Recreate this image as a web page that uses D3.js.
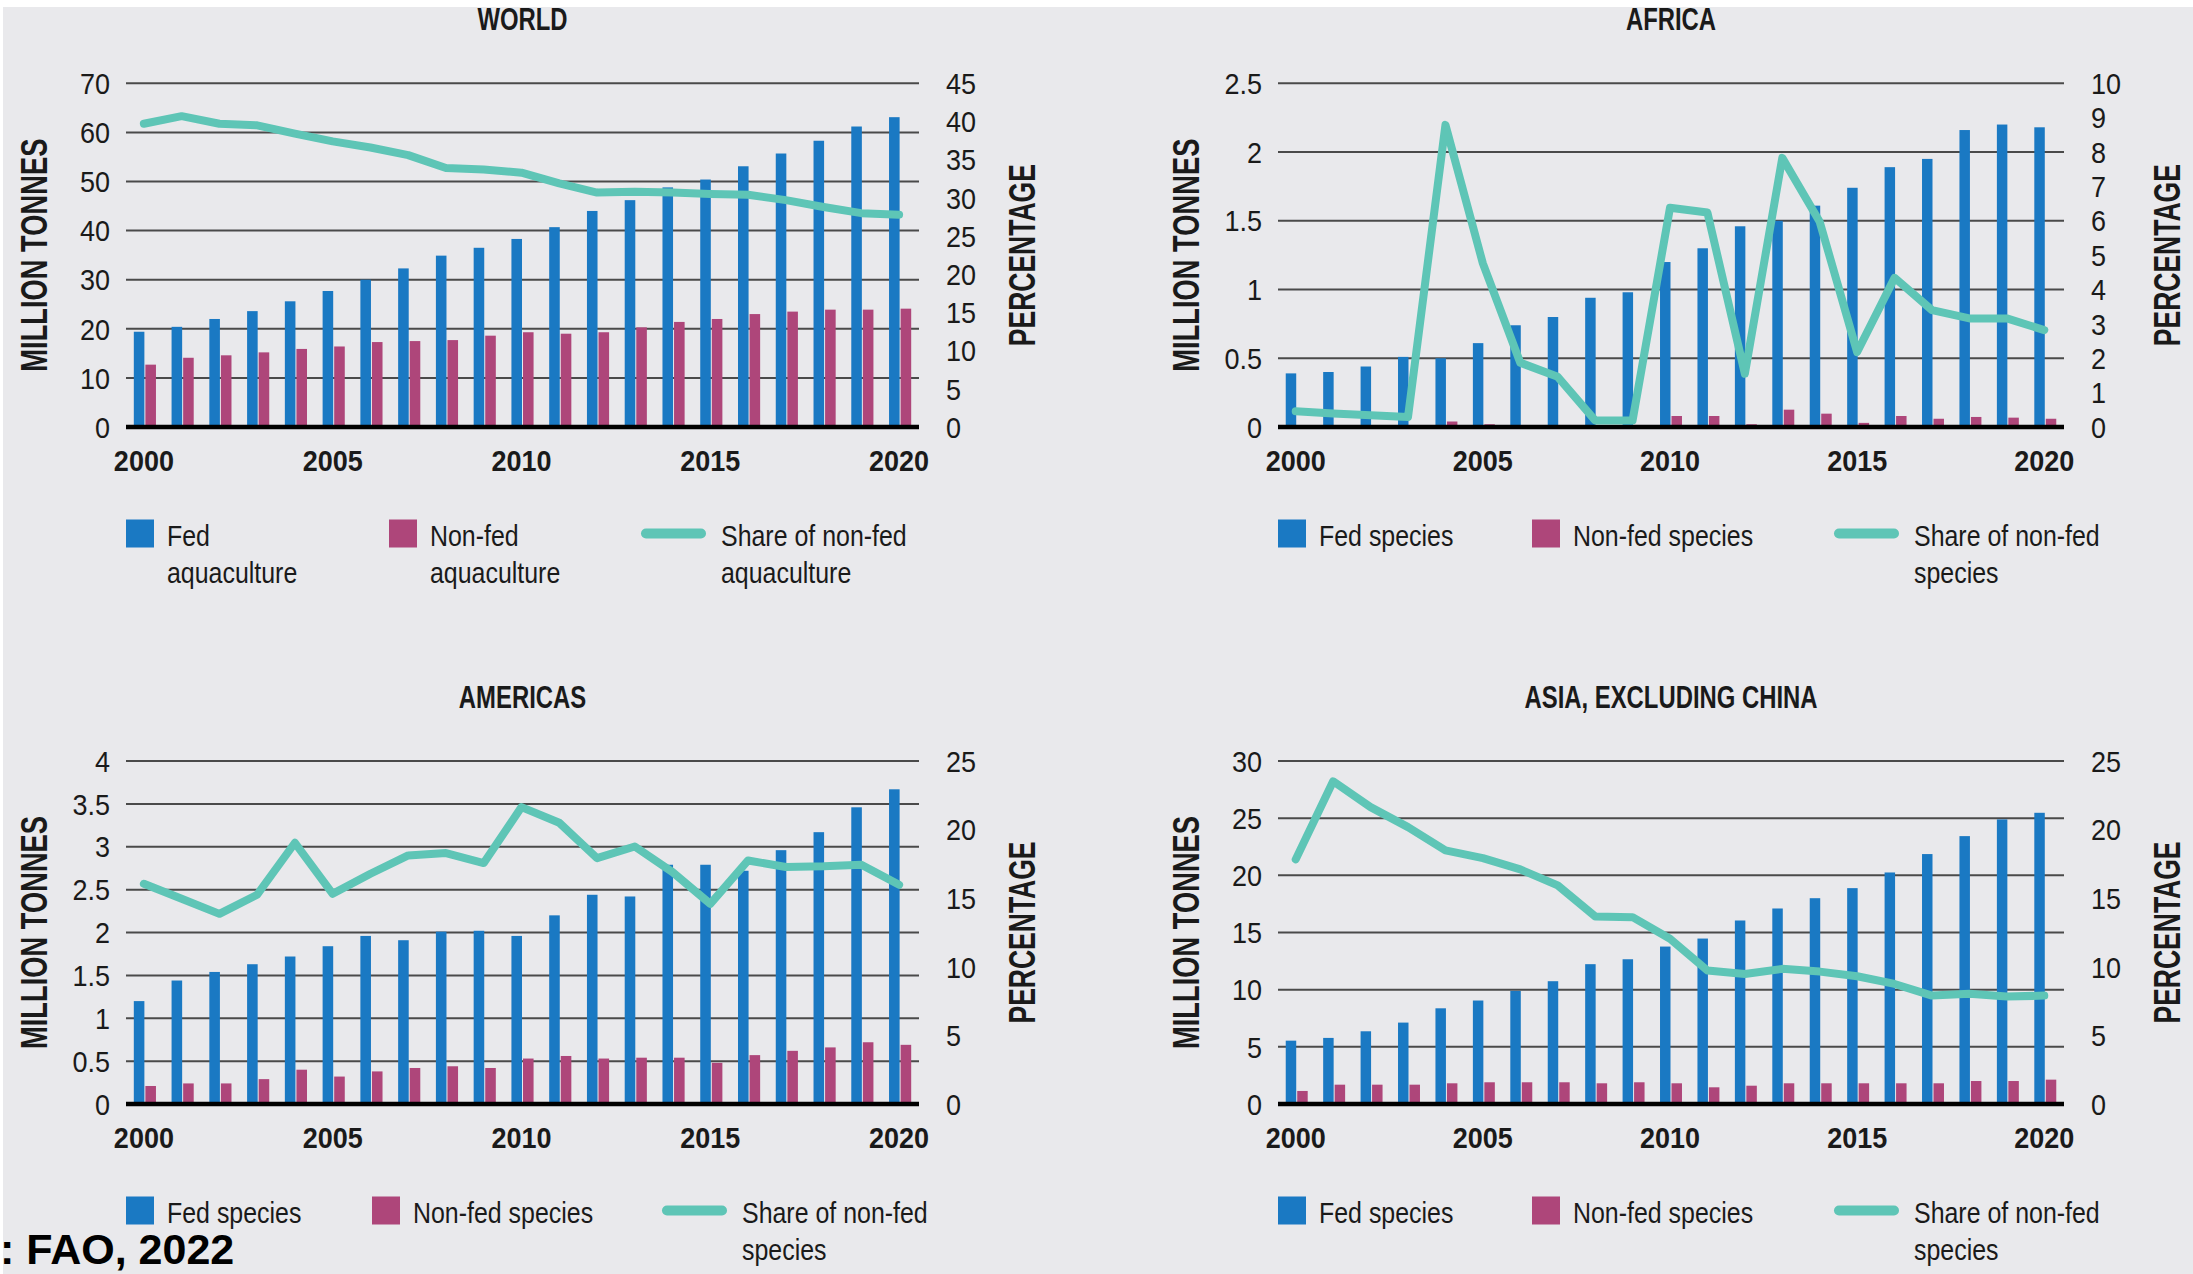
<!DOCTYPE html>
<html>
<head>
<meta charset="utf-8">
<script src="https://cdn.jsdelivr.net/npm/d3@7"></script>
<style>
html,body{margin:0;padding:0;background:#ffffff;}
svg{display:block;}
</style>
</head>
<body>
<svg id="chart" width="2193" height="1274"></svg>
<script>
// ---------------- DATA ----------------
const years = [2000,2001,2002,2003,2004,2005,2006,2007,2008,2009,2010,2011,2012,2013,2014,2015,2016,2017,2018,2019,2020];

// WORLD (million tonnes / percentage)
const worldFed    = [19.4,20.4,22.0,23.6,25.6,27.7,30.0,32.3,34.9,36.5,38.3,40.7,44.0,46.2,48.8,50.4,53.1,55.7,58.3,61.2,63.1];
const worldNonFed = [12.7,14.1,14.6,15.2,15.9,16.4,17.3,17.5,17.7,18.6,19.3,19.0,19.3,20.3,21.4,22.0,23.0,23.5,23.9,23.9,24.1];
const worldShare  = [39.7,40.7,39.7,39.5,38.4,37.4,36.6,35.6,33.9,33.7,33.3,31.9,30.7,30.8,30.7,30.5,30.4,29.7,28.8,28.0,27.8];

// AFRICA
const africaFed    = [0.39,0.40,0.44,0.51,0.50,0.61,0.74,0.80,0.94,0.98,1.20,1.30,1.46,1.50,1.61,1.74,1.89,1.95,2.16,2.20,2.18];
const africaNonFed = [0,0,0,0,0.04,0.02,0.005,0,0,0,0.08,0.08,0.02,0.126,0.097,0.03,0.08,0.06,0.073,0.068,0.06];
const africaShare  = [0.46,0.39,0.34,0.29,8.79,4.76,1.87,1.46,0.19,0.19,6.38,6.24,1.55,7.83,5.97,2.18,4.34,3.40,3.16,3.16,2.82];

// AMERICAS
const americasFed    = [1.20,1.44,1.54,1.63,1.72,1.84,1.96,1.91,2.01,2.02,1.96,2.20,2.44,2.42,2.79,2.79,2.72,2.96,3.17,3.46,3.67];
const americasNonFed = [0.21,0.24,0.24,0.29,0.40,0.32,0.38,0.42,0.44,0.42,0.53,0.56,0.53,0.54,0.54,0.48,0.57,0.62,0.66,0.72,0.69];
const americasShare  = [16.05,14.96,13.86,15.25,19.04,15.32,16.78,18.12,18.29,17.56,21.64,20.5,17.92,18.77,16.9,14.59,17.75,17.27,17.32,17.44,15.98];

// ASIA, EXCLUDING CHINA
const asiaFed    = [5.54,5.78,6.36,7.12,8.37,9.05,9.89,10.74,12.23,12.66,13.77,14.47,16.05,17.1,18.0,18.88,20.25,21.86,23.43,24.89,25.47];
const asiaNonFed = [1.14,1.69,1.69,1.69,1.81,1.9,1.9,1.9,1.81,1.9,1.81,1.46,1.6,1.81,1.81,1.81,1.81,1.81,2.01,2.01,2.13];
const asiaShare  = [17.83,23.52,21.64,20.18,18.48,17.92,17.1,15.93,13.67,13.62,12.04,9.73,9.48,9.85,9.65,9.31,8.75,7.9,8.03,7.83,7.9];

// Tick labels
const yearLabels        = [2000,2005,2010,2015,2020];
const worldLeftTicks    = [0,10,20,30,40,50,60,70];
const worldRightTicks   = [0,5,10,15,20,25,30,35,40,45];
const africaLeftTicks   = [0,0.5,1,1.5,2,2.5];
const africaRightTicks  = [0,1,2,3,4,5,6,7,8,9,10];
const americasLeftTicks = [0,0.5,1,1.5,2,2.5,3,3.5,4];
const americasRightTicks= [0,5,10,15,20,25];
const asiaLeftTicks     = [0,5,10,15,20,25,30];
const asiaRightTicks    = [0,5,10,15,20,25];

// Titles and legend texts
const titles = ["WORLD","AFRICA","AMERICAS","ASIA, EXCLUDING CHINA"];
const worldLegend  = [["Fed","aquaculture"],["Non-fed","aquaculture"],["Share of non-fed","aquaculture"]];
const regionLegend = [["Fed species"],["Non-fed species"],["Share of non-fed","species"]];
const leftAxisTitle = "MILLION TONNES";
const rightAxisTitle = "PERCENTAGE";
const sourceText = ": FAO, 2022";

// ---------------- STYLE ----------------
const FED = "#1a79c3", NONFED = "#ae467a", SHARE = "#5ec5b6", BG = "#e9e9ec";
const FONT = "'Liberation Sans', Arial, Helvetica, sans-serif";

const panels = [
  {title:titles[0], left:126,  right:919,  top:83.3, bottom:427,  fed:worldFed, non:worldNonFed, share:worldShare,
   lTicks:worldLeftTicks, rTicks:worldRightTicks, legend:worldLegend, legX:[0,263,516]},
  {title:titles[1], left:1278, right:2064, top:83.3, bottom:427,  fed:africaFed, non:africaNonFed, share:africaShare,
   lTicks:africaLeftTicks, rTicks:africaRightTicks, legend:regionLegend, legX:[0,254,557]},
  {title:titles[2], left:126,  right:919,  top:761,  bottom:1104, fed:americasFed, non:americasNonFed, share:americasShare,
   lTicks:americasLeftTicks, rTicks:americasRightTicks, legend:regionLegend, legX:[0,246,537]},
  {title:titles[3], left:1278, right:2064, top:761,  bottom:1104, fed:asiaFed, non:asiaNonFed, share:asiaShare,
   lTicks:asiaLeftTicks, rTicks:asiaRightTicks, legend:regionLegend, legX:[0,254,557]}
];

const svg = d3.select("#chart");
svg.append("rect").attr("x",3).attr("y",7).attr("width",2190).attr("height",1267).attr("fill",BG);

function stext(g, x, y, s, o) {
  o = o || {};
  return g.append("text")
    .attr("transform", `translate(${x},${y}) scale(${o.sx||1},1)`)
    .attr("text-anchor", o.anchor || "start")
    .attr("font-family", FONT)
    .attr("font-weight", o.bold ? "bold" : "normal")
    .attr("font-size", o.size || 30)
    .attr("fill", o.fill || "#1a1a1a")
    .text(s);
}

panels.forEach(p => {
  const g = svg.append("g");
  const x = d3.scaleBand().domain(years).range([p.left, p.right]).paddingInner(0).paddingOuter(0);
  const yL = d3.scaleLinear().domain([0, d3.max(p.lTicks)]).range([p.bottom, p.top]);
  const yR = d3.scaleLinear().domain([0, d3.max(p.rTicks)]).range([p.bottom, p.top]);
  const step = x.bandwidth();
  const bw = step * 0.28;
  const cx = d => x(d) + step / 2;

  // gridlines
  g.selectAll(".grid").data(p.lTicks.filter(v => v > 0)).enter().append("line")
    .attr("x1", p.left).attr("x2", p.right)
    .attr("y1", d => yL(d)).attr("y2", d => yL(d))
    .attr("stroke", "#4a4a4a").attr("stroke-width", 2);

  // bars
  g.selectAll(".fed").data(years).enter().append("rect")
    .attr("x", d => cx(d) - bw - 0.5).attr("width", bw)
    .attr("y", (d,i) => yL(p.fed[i])).attr("height", (d,i) => p.bottom - yL(p.fed[i]))
    .attr("fill", FED);
  g.selectAll(".non").data(years).enter().append("rect")
    .attr("x", d => cx(d) + 0.5).attr("width", bw)
    .attr("y", (d,i) => yL(p.non[i])).attr("height", (d,i) => p.bottom - yL(p.non[i]))
    .attr("fill", NONFED);

  // baseline
  g.append("line").attr("x1", p.left).attr("x2", p.right)
    .attr("y1", p.bottom).attr("y2", p.bottom)
    .attr("stroke", "#000").attr("stroke-width", 4.5);

  // share line
  const line = d3.line().x((d,i) => cx(years[i]) - 1).y(d => yR(d));
  g.append("path").datum(p.share).attr("d", line)
    .attr("fill", "none").attr("stroke", SHARE).attr("stroke-width", 8)
    .attr("stroke-linejoin", "round").attr("stroke-linecap", "round");

  // left tick labels
  p.lTicks.forEach(v => stext(g, p.left - 16, yL(v) + 10.7, String(v), {anchor:"end", sx:0.9, size:30}));
  // right tick labels
  p.rTicks.forEach(v => stext(g, p.right + 27, yR(v) + 10.7, String(v), {anchor:"start", sx:0.9, size:30}));

  // year labels
  yearLabels.forEach(yv => stext(g, cx(yv) - 1, p.bottom + 44, String(yv), {anchor:"middle", bold:true, sx:0.9, size:30}));

  // title
  stext(g, (p.left + p.right) / 2, p.top - 53, p.title, {anchor:"middle", bold:true, sx:0.77, size:31});

  // axis titles
  const cy = (p.top + p.bottom) / 2;
  g.append("text")
    .attr("transform", `translate(${p.left - 79.5},${cy}) rotate(-90)`)
    .attr("text-anchor", "middle").attr("font-family", FONT).attr("font-weight", "bold")
    .attr("font-size", 37).attr("fill", "#1a1a1a")
    .attr("textLength", 233).attr("lengthAdjust", "spacingAndGlyphs")
    .text(leftAxisTitle);
  g.append("text")
    .attr("transform", `translate(${p.right + 116},${cy}) rotate(-90)`)
    .attr("text-anchor", "middle").attr("font-family", FONT).attr("font-weight", "bold")
    .attr("font-size", 37).attr("fill", "#1a1a1a")
    .attr("textLength", 182).attr("lengthAdjust", "spacingAndGlyphs")
    .text(rightAxisTitle);

  // legend
  const ly = p.bottom + 92.5;
  const colors = [FED, NONFED];
  [0,1].forEach(k => {
    const lx = p.left + p.legX[k];
    g.append("rect").attr("x", lx).attr("y", ly).attr("width", 28).attr("height", 28).attr("fill", colors[k]);
    p.legend[k].forEach((s, j) => stext(g, lx + 41, p.bottom + 119 + j * 37, s, {sx:0.86, size:29}));
  });
  const lx2 = p.left + p.legX[2];
  g.append("line").attr("x1", lx2 + 4).attr("x2", lx2 + 59)
    .attr("y1", ly + 14).attr("y2", ly + 14)
    .attr("stroke", SHARE).attr("stroke-width", 10).attr("stroke-linecap", "round");
  p.legend[2].forEach((s, j) => stext(g, lx2 + 79, p.bottom + 119 + j * 37, s, {sx:0.86, size:29}));
});

// source
svg.append("text").attr("x", 0).attr("y", 1264)
  .attr("font-family", FONT).attr("font-weight", "bold").attr("font-size", 43).attr("fill", "#000")
  .text(sourceText);
</script>
</body>
</html>
